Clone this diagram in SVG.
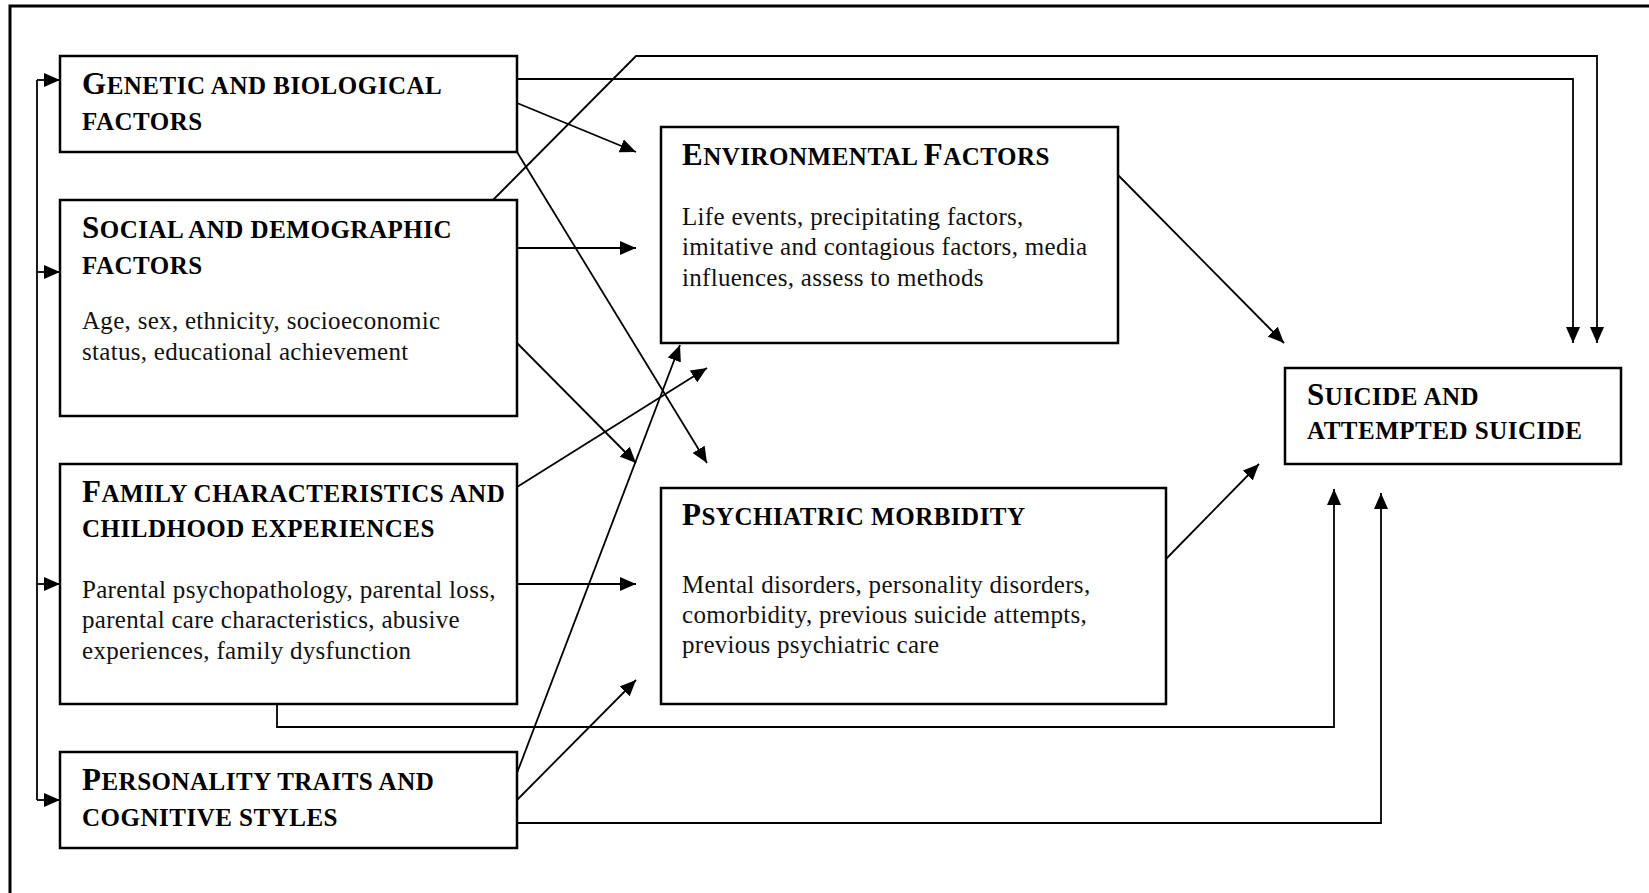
<svg xmlns="http://www.w3.org/2000/svg" width="1649" height="893" viewBox="0 0 1649 893">
<defs>
<marker id="ah" markerUnits="userSpaceOnUse" markerWidth="18" markerHeight="14" refX="16" refY="7" orient="auto">
<path d="M0,0 L16,7 L0,14 z" fill="#000"/>
</marker>
<style>
.box{fill:#fff;stroke:#000;stroke-width:2.5}
.t{font-family:"Liberation Serif",serif;font-weight:bold;font-size:25px;letter-spacing:0.5px;fill:#000}
.big{font-size:31px}
.b{font-family:"Liberation Serif",serif;font-size:25px;letter-spacing:0.3px;fill:#111}
.c{fill:none;stroke:#000;stroke-width:1.8}
.ca{fill:none;stroke:#000;stroke-width:1.8;marker-end:url(#ah)}
.frame{fill:none;stroke:#000;stroke-width:3}
</style>
</defs>
<rect width="1649" height="893" fill="#fff"/>
<path class="frame" d="M10,893 V6 H1649"/>

<g id="connectors">
<path class="c" d="M37,800 V80"/>
<path class="ca" d="M37,80 H60"/>
<path class="ca" d="M37,272 H60"/>
<path class="ca" d="M37,584 H60"/>
<path class="ca" d="M37,800 H60"/>
<path class="ca" d="M517,103 L636,152"/>
<path class="ca" d="M517,152 L707,463"/>
<path class="ca" d="M517,79 H1573 V343"/>
<path class="ca" d="M493,200 L636,56 H1597 V343"/>
<path class="ca" d="M517,248 H636"/>
<path class="ca" d="M517,343 L636,463"/>
<path class="ca" d="M517,487 L707,368"/>
<path class="ca" d="M517,584 H636"/>
<path class="ca" d="M277,704 V727 H1334 V489"/>
<path class="ca" d="M517,773 L680,345"/>
<path class="ca" d="M517,800 L636,680"/>
<path class="ca" d="M517,823 H1381 V493"/>
<path class="ca" d="M1118,175 L1284,343"/>
<path class="ca" d="M1166,559 L1259,464"/>
</g>

<g id="genetic">
<rect class="box" x="60" y="56" width="457" height="96"/>
<text class="t" x="82" y="94"><tspan class="big">G</tspan>ENETIC AND BIOLOGICAL</text>
<text class="t" x="82" y="130">FACTORS</text>
</g>

<g id="social">
<rect class="box" x="60" y="200" width="457" height="216"/>
<text class="t" x="82" y="238"><tspan class="big">S</tspan>OCIAL AND DEMOGRAPHIC</text>
<text class="t" x="82" y="274">FACTORS</text>
<text class="b" x="82" y="329">Age, sex, ethnicity, socioeconomic</text>
<text class="b" x="82" y="360">status, educational achievement</text>
</g>

<g id="family">
<rect class="box" x="60" y="464" width="457" height="240"/>
<text class="t" x="82" y="502"><tspan class="big">F</tspan>AMILY CHARACTERISTICS AND</text>
<text class="t" x="82" y="537">CHILDHOOD EXPERIENCES</text>
<text class="b" x="82" y="598">Parental psychopathology, parental loss,</text>
<text class="b" x="82" y="628">parental care characteristics, abusive</text>
<text class="b" x="82" y="659">experiences, family dysfunction</text>
</g>

<g id="personality">
<rect class="box" x="60" y="752" width="457" height="96"/>
<text class="t" x="82" y="790"><tspan class="big">P</tspan>ERSONALITY TRAITS AND</text>
<text class="t" x="82" y="826">COGNITIVE STYLES</text>
</g>

<g id="environmental">
<rect class="box" x="661" y="127" width="457" height="216"/>
<text class="t" x="682" y="165"><tspan class="big">E</tspan>NVIRONMENTAL <tspan class="big">F</tspan>ACTORS</text>
<text class="b" x="682" y="225">Life events, precipitating factors,</text>
<text class="b" x="682" y="255">imitative and contagious factors, media</text>
<text class="b" x="682" y="286">influences, assess to methods</text>
</g>

<g id="psychiatric">
<rect class="box" x="661" y="488" width="505" height="216"/>
<text class="t" x="682" y="525"><tspan class="big">P</tspan>SYCHIATRIC MORBIDITY</text>
<text class="b" x="682" y="593">Mental disorders, personality disorders,</text>
<text class="b" x="682" y="623">comorbidity, previous suicide attempts,</text>
<text class="b" x="682" y="653">previous psychiatric care</text>
</g>

<g id="suicide">
<rect class="box" x="1285" y="368" width="336" height="96"/>
<text class="t" x="1307" y="405"><tspan class="big">S</tspan>UICIDE AND</text>
<text class="t" x="1307" y="439">ATTEMPTED SUICIDE</text>
</g>
</svg>
